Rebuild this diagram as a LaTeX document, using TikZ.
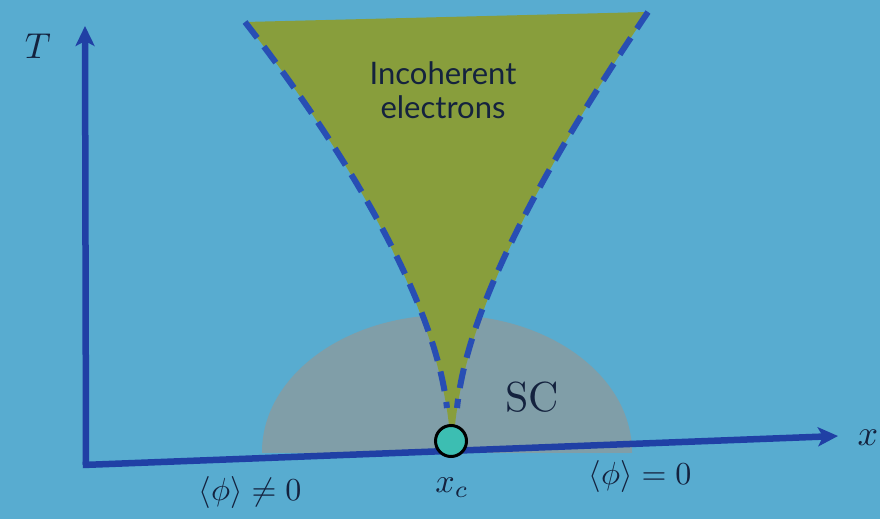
\documentclass[tikz,border=0pt]{standalone}
\usepackage{fontspec}
\newfontfamily\labelfont{Lato}
\usetikzlibrary{arrows.meta}
\definecolor{bg}{RGB}{88,172,208}
\definecolor{axisblue}{RGB}{32,64,165}
\definecolor{dashblue}{RGB}{40,78,180}
\definecolor{olivefill}{RGB}{136,158,60}
\definecolor{scgray}{RGB}{128,158,168}
\definecolor{critfill}{RGB}{60,190,178}
\definecolor{ink}{RGB}{20,34,62}
\tikzset{
  axisline/.style={draw=axisblue, line width=6.5pt, -{Stealth[length=20pt,width=19pt,inset=5pt]}},
  dashline/.style={draw=dashblue, line width=6pt, dash pattern=on 20pt off 11pt},
  lbl/.style={text=ink, inner sep=0pt},
}
\begin{document}
\begin{tikzpicture}[x=1pt,y=-1pt]
\fill[bg] (0,0) rectangle (880,519);
\useasboundingbox (0,0) rectangle (880,519);
% SC dome
\begin{scope}
\clip (0,0) rectangle (880,452);
\fill[scgray] (447,452) ellipse [x radius=185, y radius=137];
\end{scope}
% incoherent region
\fill[olivefill] (245,22) .. controls (345,150) and (435,300) .. (449,425) -- (455,425) .. controls (468,300) and (555,150) .. (648,12) -- cycle;
\draw[dashline] (245,22) .. controls (345,150) and (435,300) .. (447,408);
\draw[dashline] (648,12) .. controls (555,150) and (468,300) .. (457,408);
% axes
\coordinate (O) at (86,465);
\coordinate (ytip) at (85,26);
\coordinate (xtip) at (838,436);
\draw[axisline] (O) -- (ytip);
\draw[axisline] ([xshift=-3.25pt]O) -- (xtip);
% critical point
\node[circle, draw=black, line width=3pt, fill=critfill, minimum size=31pt, inner sep=0pt] (xc) at (451,441) {};
% labels
\node[lbl, scale=3.6] (T) at (38,46) {$T$};
\node[lbl, scale=3.6] (xlab) at (868,438) {$x$};
\node[lbl, scale=3.4] (xclab) at (452,488) {$x_c$};
\node[lbl, scale=3.2] (ordered) at (250,492) {$\langle\phi\rangle\neq0$};
\node[lbl, scale=3.2] (disordered) at (640,476) {$\langle\phi\rangle=0$};
\node[lbl, scale=4.2] (sc) at (532,397) {SC};
\node[lbl, align=center, scale=3.1, font=\labelfont] (inc) at (443,90) {Incoherent\\[-1pt] electrons};
\end{tikzpicture}
\end{document}
